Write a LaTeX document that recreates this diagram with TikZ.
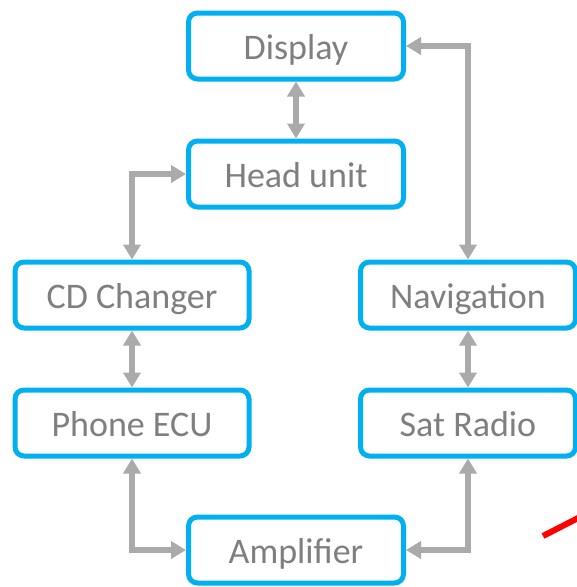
\documentclass[tikz,border=0pt]{standalone}
\usepackage{fontspec}
\setmainfont{Carlito}
\usetikzlibrary{arrows.meta}
\definecolor{boxblue}{RGB}{0,176,240}
\definecolor{textgray}{RGB}{127,127,127}
\definecolor{linkgray}{RGB}{170,170,170}

\begin{document}
\begin{tikzpicture}[x=1pt, y=-1pt,
    unit/.style={rectangle, rounded corners=9pt, draw=boxblue, line width=5pt, fill=white, text=textgray,
        minimum width=215pt, minimum height=66pt, inner sep=0pt, text height=30pt, text depth=4pt,
        font=\fontsize{36}{40}\selectfont},
    link/.style={{Triangle[width=17pt,length=15pt]}-{Triangle[width=17pt,length=15pt]}, draw=linkgray, line width=6pt}]
    \useasboundingbox (0,0) rectangle (577,587);
    \clip (0,0) rectangle (577,587);

    \node[unit] (display) at (296,46) {Display};
    \node[unit] (head) at (296,174) {Head unit};
    \node[unit, minimum width=234pt] (cd) at (132,295) {CD Changer};
    \node[unit] (nav) at (468,295) {Navigation};
    \node[unit, minimum width=234pt] (phone) at (132,423) {Phone ECU};
    \node[unit] (sat) at (468,423) {Sat Radio};
    \node[unit] (amp) at (296,550) {Amplifier};

    \draw[link] (display) -- (head);
    \draw[link] (head.west) -| (cd.north);
    \draw[link] (cd) -- (phone);
    \draw[link] (phone.south) |- (amp.west);
    \draw[link] (display.east) -| (nav.north);
    \draw[link] (nav) -- (sat);
    \draw[link] (sat.south) |- (amp.east);

    \draw[red, line width=6pt] (543,536) -- (582,516);
\end{tikzpicture}
\end{document}
